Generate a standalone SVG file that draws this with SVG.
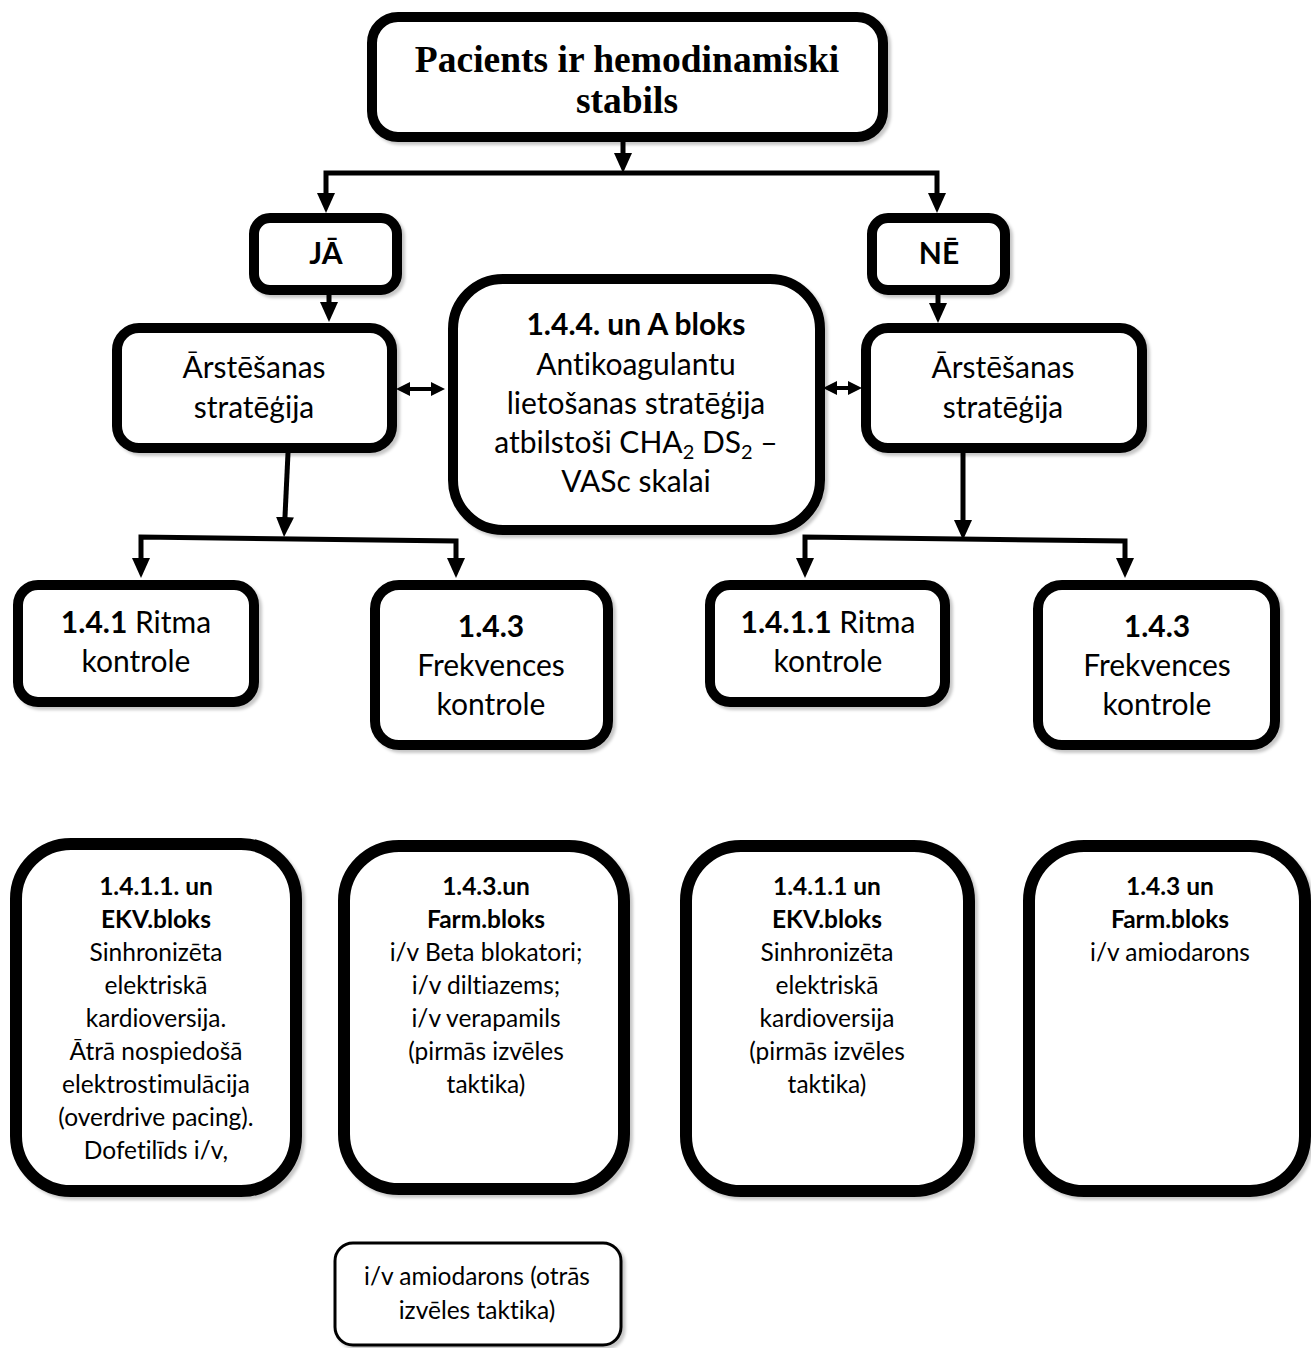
<svg xmlns="http://www.w3.org/2000/svg" width="1311" height="1348" viewBox="0 0 1311 1348">
<style>
  .box{fill:#fff;stroke:#000;stroke-width:10;filter:url(#sh)}
  .big{fill:#fff;stroke:#000;stroke-width:12;filter:url(#sh)}
  .thin{fill:#fff;stroke:#000;stroke-width:3;filter:url(#sh)}
  .t{font-family:Lato,"Liberation Sans",sans-serif;font-size:30px;fill:#000;text-anchor:middle;font-variant-ligatures:none}
  .s{font-family:Lato,"Liberation Sans",sans-serif;font-size:24.5px;fill:#000;text-anchor:middle;font-variant-ligatures:none}
  .b{font-weight:bold}
  .title{font-family:"Liberation Serif","Times New Roman",serif;font-weight:bold;font-size:37.5px;text-anchor:middle;fill:#000}
  .c{fill:none;stroke:#000;stroke-width:5}
  .c2{fill:none;stroke:#000;stroke-width:4}
</style>
<defs>
  <filter id="sh" x="-10%" y="-10%" width="125%" height="125%">
    <feDropShadow dx="3" dy="3" stdDeviation="1.5" flood-color="#000" flood-opacity="0.22"/>
  </filter>
  <marker id="ah" viewBox="0 0 20 18" markerWidth="20" markerHeight="18" refX="10" refY="9" orient="auto-start-reverse" markerUnits="userSpaceOnUse">
    <path d="M0,0 L20,9 L0,18 z" fill="#000"/>
  </marker>
  <marker id="sm" viewBox="0 0 14 14" markerWidth="14" markerHeight="14" refX="6" refY="7" orient="auto-start-reverse" markerUnits="userSpaceOnUse">
    <path d="M0,0 L14,7 L0,14 z" fill="#000"/>
  </marker>
</defs>
<rect width="1311" height="1348" fill="#fff"/>

<g id="connectors">
  <path class="c" d="M623,142 V163" marker-end="url(#ah)"/>
  <path class="c" d="M326,203 V173 H937 V203" marker-start="url(#ah)" marker-end="url(#ah)"/>
  <path class="c" d="M329,295 V312" marker-end="url(#ah)"/>
  <path class="c" d="M938,295 V313" marker-end="url(#ah)"/>
  <path class="c2" d="M404,389 H437" marker-start="url(#sm)" marker-end="url(#sm)"/>
  <path class="c2" d="M831,388 H854" marker-start="url(#sm)" marker-end="url(#sm)"/>
  <path class="c" d="M288,453 L284.5,527" marker-end="url(#ah)"/>
  <path class="c" d="M141,568 V537 L456,541 V568" marker-start="url(#ah)" marker-end="url(#ah)"/>
  <path class="c" d="M963,453 V530" marker-end="url(#ah)"/>
  <path class="c" d="M805,568 V537 L1125,541 V568" marker-start="url(#ah)" marker-end="url(#ah)"/>
</g>

<g id="n-start">
  <rect class="box" x="372" y="17" width="511" height="120" rx="26"/>
  <text class="title" x="627" y="72">Pacients ir hemodinamiski</text>
  <text class="title" x="627" y="113">stabils</text>
</g>

<g id="n-ja">
  <rect class="box" x="254" y="218" width="143" height="72" rx="16"/>
  <text class="t b" x="326" y="264">JĀ</text>
</g>
<g id="n-ne">
  <rect class="box" x="872" y="218" width="133" height="72" rx="16"/>
  <text class="t b" x="939" y="264">NĒ</text>
</g>

<g id="n-strat-left">
  <rect class="box" x="117" y="328" width="275" height="120" rx="22"/>
  <text class="t" x="254" y="378">Ārstēšanas</text>
  <text class="t" x="254" y="418">stratēģija</text>
</g>
<g id="n-strat-right">
  <rect class="box" x="866" y="328" width="276" height="120" rx="22"/>
  <text class="t" x="1003" y="378">Ārstēšanas</text>
  <text class="t" x="1003" y="418">stratēģija</text>
</g>

<g id="n-antikoag">
  <rect class="box" x="453" y="279" width="367" height="251" rx="50"/>
  <text class="t b" x="636" y="335">1.4.4. un A bloks</text>
  <text class="t" x="636" y="375">Antikoagulantu</text>
  <text class="t" x="636" y="414">lietošanas stratēģija</text>
  <text class="t" x="636" y="453">atbilstoši CHA<tspan font-size="20" dy="6">2</tspan><tspan dy="-6"> DS</tspan><tspan font-size="20" dy="6">2</tspan><tspan dy="-6"> –</tspan></text>
  <text class="t" x="636" y="492">VASc skalai</text>
</g>

<g id="n-ritma-left">
  <rect class="box" x="18" y="585" width="236" height="117" rx="20"/>
  <text class="t" x="136" y="633"><tspan class="b">1.4.1</tspan> Ritma</text>
  <text class="t" x="136" y="672">kontrole</text>
</g>
<g id="n-frekv-left">
  <rect class="box" x="375" y="585" width="233" height="160" rx="24"/>
  <text class="t b" x="491" y="637">1.4.3</text>
  <text class="t" x="491" y="676">Frekvences</text>
  <text class="t" x="491" y="715">kontrole</text>
</g>
<g id="n-ritma-right">
  <rect class="box" x="710" y="585" width="235" height="117" rx="20"/>
  <text class="t" x="828" y="633"><tspan class="b">1.4.1.1</tspan> Ritma</text>
  <text class="t" x="828" y="672">kontrole</text>
</g>
<g id="n-frekv-right">
  <rect class="box" x="1038" y="585" width="237" height="160" rx="24"/>
  <text class="t b" x="1157" y="637">1.4.3</text>
  <text class="t" x="1157" y="676">Frekvences</text>
  <text class="t" x="1157" y="715">kontrole</text>
</g>

<g id="n-ekv-left">
  <rect class="big" x="16" y="844" width="280" height="347" rx="55"/>
  <text class="s b" x="156" y="895">1.4.1.1. un</text>
  <text class="s b" x="156" y="928">EKV.bloks</text>
  <text class="s" x="156" y="961">Sinhronizēta</text>
  <text class="s" x="156" y="994">elektriskā</text>
  <text class="s" x="156" y="1027">kardioversija.</text>
  <text class="s" x="156" y="1060">Ātrā nospiedošā</text>
  <text class="s" x="156" y="1093">elektrostimulācija</text>
  <text class="s" x="156" y="1126">(overdrive pacing).</text>
  <text class="s" x="156" y="1159">Dofetilīds i/v,</text>
</g>
<g id="n-farm-left">
  <rect class="big" x="344" y="846" width="280" height="343" rx="55"/>
  <text class="s b" x="486" y="895">1.4.3.un</text>
  <text class="s b" x="486" y="928">Farm.bloks</text>
  <text class="s" x="486" y="961">i/v Beta blokatori;</text>
  <text class="s" x="486" y="994">i/v diltiazems;</text>
  <text class="s" x="486" y="1027">i/v verapamils</text>
  <text class="s" x="486" y="1060">(pirmās izvēles</text>
  <text class="s" x="486" y="1093">taktika)</text>
</g>
<g id="n-ekv-right">
  <rect class="big" x="686" y="846" width="283" height="345" rx="55"/>
  <text class="s b" x="827" y="895">1.4.1.1 un</text>
  <text class="s b" x="827" y="928">EKV.bloks</text>
  <text class="s" x="827" y="961">Sinhronizēta</text>
  <text class="s" x="827" y="994">elektriskā</text>
  <text class="s" x="827" y="1027">kardioversija</text>
  <text class="s" x="827" y="1060">(pirmās izvēles</text>
  <text class="s" x="827" y="1093">taktika)</text>
</g>
<g id="n-farm-right">
  <rect class="big" x="1029" y="846" width="276" height="345" rx="55"/>
  <text class="s b" x="1170" y="895">1.4.3 un</text>
  <text class="s b" x="1170" y="928">Farm.bloks</text>
  <text class="s" x="1170" y="961">i/v amiodarons</text>
</g>

<g id="n-amio2">
  <rect class="thin" x="335" y="1243" width="286" height="102" rx="18"/>
  <text class="s" x="477" y="1285">i/v amiodarons (otrās</text>
  <text class="s" x="477" y="1319">izvēles taktika)</text>
</g>
</svg>
